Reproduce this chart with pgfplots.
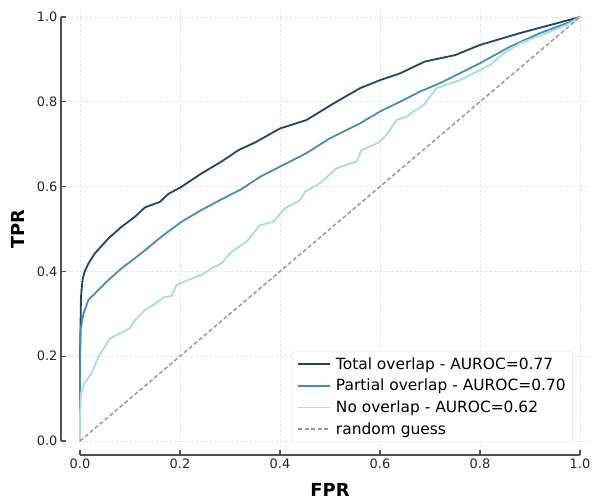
\documentclass[border=0pt]{standalone}
\usepackage{fontspec}
\setmainfont{DejaVu Sans}
\usepackage{pgfplots}
\pgfplotsset{compat=1.18}
\definecolor{totalc}{RGB}{28,70,112}
\definecolor{partc}{RGB}{72,142,176}
\definecolor{noc}{RGB}{166,220,226}
\definecolor{spinec}{RGB}{80,80,80}
\begin{document}
\begin{tikzpicture}
\begin{axis}[
  scale only axis, width=520bp, height=441bp,
  xmin=-0.02, xmax=1.02, ymin=-0.02, ymax=1.02,
  axis x line*=bottom, axis y line*=left,
  axis x line shift=5.5bp, axis y line shift=9bp,
  axis line style={draw=none},
  tick align=inside, major tick length=5bp,
  tick style={spinec, line width=1.3bp},
  xtick={0,0.2,...,1.0}, ytick={0,0.2,...,1.0},
  xticklabel style={/pgf/number format/.cd,fixed,fixed zerofill,precision=1},
  yticklabel style={/pgf/number format/.cd,fixed,fixed zerofill,precision=1},
  /pgf/number format/assume math mode=true,
  ticklabel style={font=\fontsize{13}{15}\selectfont, text=black!85},
  grid=major, grid style={dash pattern=on 1bp off 1.5bp, gray!28, line width=0.8bp},
  xlabel={\textbf{FPR}}, ylabel={\textbf{TPR}},
  label style={font=\fontsize{18}{20}\selectfont},
  xlabel style={at={(axis description cs:0.5,-0.092)}, anchor=center},
  ylabel style={at={(axis description cs:-0.1,0.5)}, anchor=center},
  legend cell align=left,
  legend style={font=\fontsize{15.5}{18}\selectfont, draw=gray!25, rounded corners=3pt,
    at={(axis description cs:0.967,0.017)}, anchor=south east, row sep=4.5bp,
    inner xsep=5bp, inner ysep=4bp, /tikz/every odd column/.append style={column sep=3bp}},
  legend image code/.code={\draw[#1] (0bp,0bp) -- (32bp,0bp);},
]
\addplot[totalc, line width=1.8bp] coordinates {
(0,0) (0,0.20) (0.002,0.34) (0.005,0.38) (0.009,0.399) (0.017,0.419) (0.030,0.443)
(0.057,0.478) (0.083,0.505) (0.110,0.529) (0.130,0.551) (0.160,0.564) (0.177,0.583)
(0.201,0.598) (0.243,0.631) (0.283,0.659) (0.317,0.686) (0.350,0.704) (0.400,0.737)
(0.453,0.757) (0.507,0.796) (0.560,0.832) (0.600,0.851) (0.640,0.867) (0.690,0.895)
(0.750,0.910) (0.800,0.934) (0.880,0.962) (0.953,0.985) (1,1)};
\addlegendentry{Total overlap - AUROC=0.77}
\addplot[partc, line width=1.8bp] coordinates {
(0,0) (0,0.15) (0.001,0.262) (0.007,0.301) (0.017,0.333) (0.030,0.348) (0.057,0.380)
(0.083,0.407) (0.123,0.443) (0.163,0.482) (0.203,0.517) (0.243,0.545) (0.283,0.570)
(0.323,0.594) (0.360,0.623) (0.400,0.647) (0.453,0.679) (0.500,0.714) (0.560,0.749)
(0.600,0.777) (0.640,0.800) (0.680,0.824) (0.720,0.844) (0.800,0.891) (0.860,0.930)
(0.920,0.962) (0.973,0.985) (1,1)};
\addlegendentry{Partial overlap - AUROC=0.70}
\addplot[noc, line width=1.8bp] coordinates {
(0,0) (0,0.06) (0.002,0.113) (0.009,0.136) (0.023,0.160) (0.037,0.199) (0.060,0.242)
(0.080,0.254) (0.100,0.266) (0.110,0.285) (0.130,0.309) (0.150,0.323) (0.167,0.339)
(0.183,0.342) (0.193,0.368) (0.217,0.380) (0.243,0.392) (0.263,0.407) (0.283,0.419)
(0.303,0.446) (0.333,0.470) (0.360,0.509) (0.387,0.517) (0.410,0.549) (0.440,0.568)
(0.450,0.588) (0.480,0.608) (0.513,0.643) (0.553,0.659) (0.563,0.686) (0.587,0.698)
(0.600,0.706) (0.613,0.722) (0.633,0.757) (0.653,0.765) (0.667,0.777) (0.687,0.792)
(0.713,0.832) (0.760,0.851) (0.793,0.871) (0.820,0.887) (0.847,0.914) (0.880,0.938)
(0.933,0.962) (0.973,0.981) (1,1)};
\addlegendentry{No overlap - AUROC=0.62}
\addplot[gray!80, line width=1.5bp, dash pattern=on 4bp off 2.5bp] coordinates {(0,0) (1,1)};
\addlegendentry{random guess}
\coordinate (sw) at (rel axis cs:0,0);
\coordinate (ne) at (rel axis cs:1,1);
\coordinate (xa) at (axis cs:0,-0.02);
\coordinate (xb) at (axis cs:1,-0.02);
\coordinate (ya) at (axis cs:-0.02,0);
\coordinate (yb) at (axis cs:-0.02,1);
\end{axis}
\draw[spinec, line width=1.4bp] ([yshift=-5.5bp]xa) -- ([yshift=-5.5bp]xb);
\draw[spinec, line width=1.4bp] ([xshift=-9bp]ya) -- ([xshift=-9bp]yb);
\pgfresetboundingbox
\path[use as bounding box] ([shift={(-70bp,-53.5bp)}]sw) rectangle ([shift={(8bp,8.5bp)}]ne);
\end{tikzpicture}
\end{document}
